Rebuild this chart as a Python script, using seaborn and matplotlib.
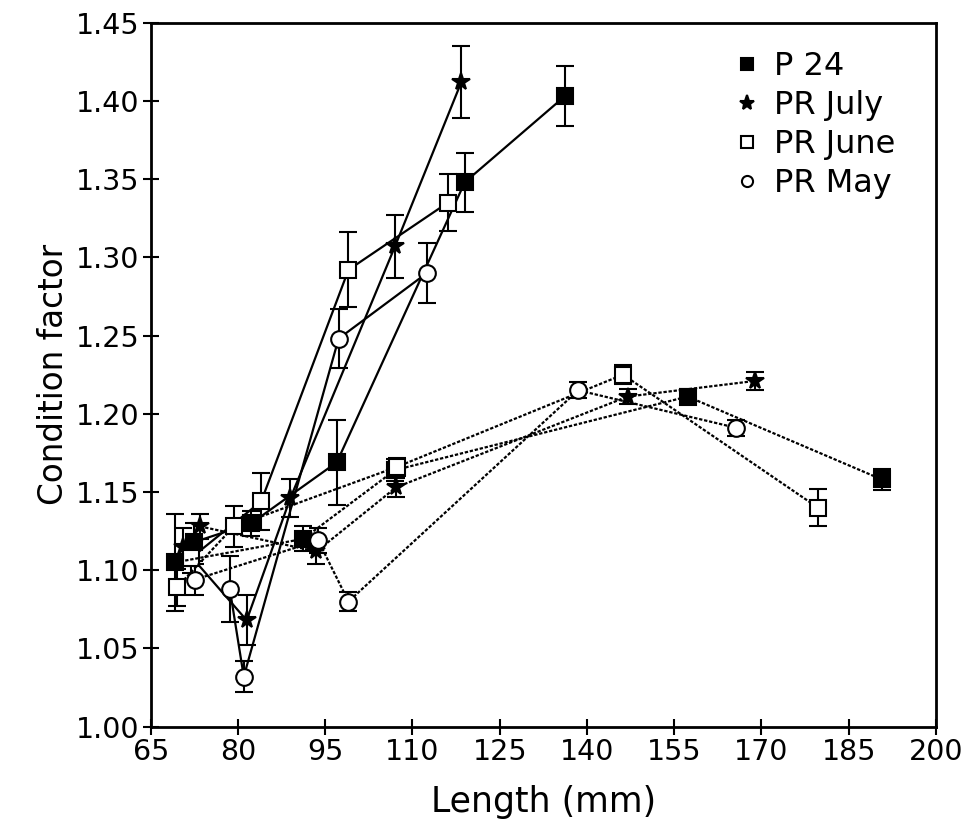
import numpy as np
import pandas as pd
import matplotlib
matplotlib.use("Agg")
import matplotlib.pyplot as plt
from matplotlib.lines import Line2D
import seaborn as sns

# valores leidos de la figura
# grupo con linea continua
p24_a_x = [72.5, 82.3, 97.0, 119.0, 136.2]
p24_a_y = [1.118, 1.130, 1.169, 1.348, 1.403]
p24_a_e = [0.012, 0.008, 0.027, 0.019, 0.019]

jul_a_x = [70.5, 81.5, 89.0, 107.0, 118.4]
jul_a_y = [1.115, 1.068, 1.146, 1.307, 1.412]
jul_a_e = [0.012, 0.016, 0.012, 0.020, 0.023]

jun_a_x = [72.0, 84.0, 99.0, 116.1]
jun_a_y = [1.108, 1.144, 1.292, 1.335]
jun_a_e = [0.010, 0.018, 0.024, 0.018]

may_a_x = [78.6, 81.0, 97.3, 112.5]
may_a_y = [1.088, 1.032, 1.248, 1.290]
may_a_e = [0.021, 0.010, 0.019, 0.019]

# grupo con linea punteada
p24_b_x = [69.2, 91.2, 107.0, 157.3, 190.7]
p24_b_y = [1.105, 1.120, 1.164, 1.211, 1.158]
p24_b_e = [0.031, 0.008, 0.007, 0.005, 0.007]

jul_b_x = [73.5, 93.5, 107.2, 147.0, 168.9]
jul_b_y = [1.128, 1.112, 1.153, 1.211, 1.221]
jul_b_e = [0.008, 0.008, 0.006, 0.005, 0.006]

jun_b_x = [69.5, 79.3, 107.3, 146.2, 179.7]
jun_b_y = [1.089, 1.128, 1.166, 1.225, 1.140]
jun_b_e = [0.012, 0.013, 0.006, 0.006, 0.012]

may_b_x = [72.6, 93.8, 99.0, 138.5, 165.7]
may_b_y = [1.094, 1.119, 1.080, 1.215, 1.191]
may_b_e = [0.010, 0.008, 0.006, 0.005, 0.005]

labels = ["P 24", "PR July", "PR June", "PR May"]

sns.set_style("ticks")
plt.rcParams["font.family"] = ["DejaVu Sans"]
plt.rcParams["text.color"] = "black"
plt.rcParams["axes.labelcolor"] = "black"
plt.rcParams["xtick.color"] = "black"
plt.rcParams["ytick.color"] = "black"

fig = plt.figure(figsize=(9.76, 8.3), dpi=100)
ax = fig.add_axes([0.1544, 0.1245, 0.8046, 0.8482])

punteado = (0, (1.5, 0.8))
series = [
    (p24_a_x, p24_a_y, p24_a_e, "P 24", "-"),
    (jul_a_x, jul_a_y, jul_a_e, "PR July", "-"),
    (jun_a_x, jun_a_y, jun_a_e, "PR June", "-"),
    (may_a_x, may_a_y, may_a_e, "PR May", "-"),
    (p24_b_x, p24_b_y, p24_b_e, "P 24", punteado),
    (jul_b_x, jul_b_y, jul_b_e, "PR July", punteado),
    (jun_b_x, jun_b_y, jun_b_e, "PR June", punteado),
    (may_b_x, may_b_y, may_b_e, "PR May", punteado),
]

estilo = {
    "P 24": dict(marker="s", markersize=11.5, markerfacecolor="black"),
    "PR July": dict(marker="*", markersize=13, markerfacecolor="black"),
    "PR June": dict(marker="s", markersize=11, markerfacecolor="white"),
    "PR May": dict(marker="o", markersize=12, markerfacecolor="white"),
}
# marcadores mas chicos en la leyenda
estilo_ley = {
    "P 24": dict(marker="s", markersize=9, markerfacecolor="black"),
    "PR July": dict(marker="*", markersize=11, markerfacecolor="black"),
    "PR June": dict(marker="s", markersize=8, markerfacecolor="white"),
    "PR May": dict(marker="o", markersize=8, markerfacecolor="white"),
}

for x, y, e, lab, ls in series:
    df = pd.DataFrame({"x": x, "y": y})
    ax.errorbar(x, y, yerr=e, fmt="none", ecolor="black", elinewidth=1.5,
                capsize=6.5, capthick=1.5, zorder=2)
    sns.lineplot(data=df, x="x", y="y", ax=ax, sort=False, estimator=None,
                 color="black", linewidth=1.6, linestyle=ls,
                 markeredgecolor="black", markeredgewidth=1.5,
                 zorder=3, **estilo[lab])

ax.set_xlim(65, 200)
ax.set_ylim(1.00, 1.45)
ax.set_xticks(np.arange(65, 201, 15))
ax.set_yticks(np.arange(1.00, 1.451, 0.05))
ax.set_yticklabels([f"{v:.2f}" for v in np.arange(1.00, 1.451, 0.05)])
ax.tick_params(direction="inout", length=12, width=1.5, labelsize=20.5,
               colors="black", pad=2)
for s in ax.spines.values():
    s.set_linewidth(2)
    s.set_color("black")

ax.set_xlabel("Length (mm)", fontsize=25, labelpad=14)
ax.set_ylabel("Condition factor", fontsize=23.5, labelpad=4)

handles = [Line2D([], [], linestyle="none", color="black", markeredgecolor="black",
                  markeredgewidth=1.5, **estilo_ley[l]) for l in labels]
ax.legend(handles, labels, loc="upper right", bbox_to_anchor=(0.985, 1.0),
          frameon=False, fontsize=23, handletextpad=0.45, labelspacing=0.25,
          handlelength=0.8)

fig.savefig("out.png", dpi=100)
